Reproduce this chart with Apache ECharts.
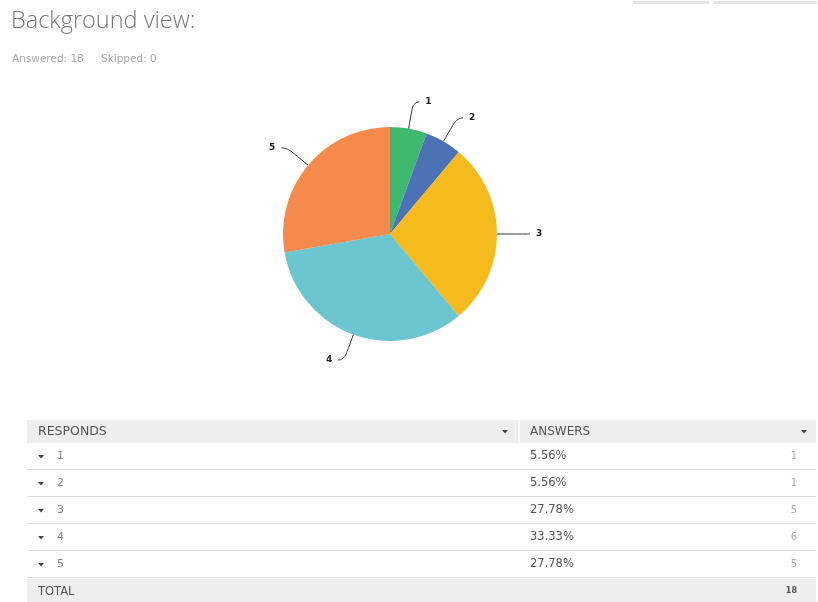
<!DOCTYPE html>
<html>
<head>
<meta charset="utf-8">
<script src="https://cdn.jsdelivr.net/npm/echarts@6/dist/echarts.min.js"></script>
<style>
html,body{margin:0;padding:0;background:#fff;}
#chart{width:818px;height:602px;}
</style>
</head>
<body>
<div id="chart"></div>
<script>
var titleText = 'Background view:';
var subtitleAnswered = 'Answered: 18';
var subtitleSkipped = 'Skipped: 0';
var categories = ['1', '2', '3', '4', '5'];
var answerCounts = [1, 1, 5, 6, 5];
var answerPercents = ['5.56%', '5.56%', '27.78%', '33.33%', '27.78%'];
var totalCount = 18;
var colHeaders = ['RESPONDS', 'ANSWERS'];
var totalLabel = 'TOTAL';
var sliceColors = ['#3fb870', '#4b72b4', '#f5bb1c', '#6cc6cf', '#f58a4c'];

var chart = echarts.init(document.getElementById('chart'), null, {renderer: 'canvas'});

var fontFam = '"DejaVu Sans", sans-serif';
var g = [];
// top-right button outlines
g.push({type: 'rect', shape: {x: 633, y: 1, width: 76, height: 3}, style: {fill: '#e4e4e4'}});
g.push({type: 'rect', shape: {x: 714, y: 1, width: 103, height: 3}, style: {fill: '#e4e4e4'}});
// title
g.push({type: 'text', left: 11, top: 9, style: {text: titleText, fill: '#777777', font: '300 23.5px "Open Sans", sans-serif'}});
g.push({type: 'text', x: 12, y: 59, style: {text: subtitleAnswered, fill: '#a8a8a8', font: '10.5px ' + fontFam, verticalAlign: 'middle'}});
g.push({type: 'text', x: 101, y: 59, style: {text: subtitleSkipped, fill: '#a8a8a8', font: '10.5px ' + fontFam, verticalAlign: 'middle'}});

// table
var tx0 = 27, tx1 = 816, tcol = 520, headY = 420, headH = 23, rowH = 27;
g.push({type: 'rect', shape: {x: tx0, y: headY, width: tx1 - tx0, height: headH}, style: {fill: '#eeeeee'}});
g.push({type: 'rect', shape: {x: tcol - 2, y: headY, width: 2, height: headH}, style: {fill: '#ffffff'}});
g.push({type: 'text', x: 38, y: headY + headH / 2, style: {text: colHeaders[0], fill: '#555', font: '12.5px ' + fontFam, verticalAlign: 'middle'}});
g.push({type: 'text', x: 530, y: headY + headH / 2, style: {text: colHeaders[1], fill: '#555', font: '12px ' + fontFam, verticalAlign: 'middle'}});
function tri(cx, cy, c) {
  return {type: 'polygon', shape: {points: [[cx - 3, cy - 1.5], [cx + 3, cy - 1.5], [cx, cy + 2]]}, style: {fill: c || '#444'}};
}
g.push(tri(505, headY + headH / 2));
g.push(tri(804, headY + headH / 2));
var y = headY + headH;
for (var i = 0; i < categories.length; i++) {
  var cy = y + rowH / 2;
  g.push(tri(41, cy));
  g.push({type: 'text', x: 57, y: cy, style: {text: categories[i], fill: '#888', font: '11px ' + fontFam, verticalAlign: 'middle'}});
  g.push({type: 'text', x: 530, y: cy, style: {text: answerPercents[i], fill: '#555', font: '11.5px ' + fontFam, verticalAlign: 'middle'}});
  g.push({type: 'text', x: 797, y: cy, style: {text: String(answerCounts[i]), fill: '#aaa', font: '10px ' + fontFam, verticalAlign: 'middle', align: 'right'}});
  y += rowH;
  g.push({type: 'rect', shape: {x: tx0, y: y - 1, width: tx1 - tx0, height: 1}, style: {fill: '#dddddd'}});
}
g.push({type: 'rect', shape: {x: tx0, y: y + 1, width: tx1 - tx0, height: 602 - y - 1}, style: {fill: '#eeeeee'}});
g.push({type: 'text', x: 38, y: y + 14, style: {text: totalLabel, fill: '#555', font: '11.5px ' + fontFam, verticalAlign: 'middle'}});
g.push({type: 'text', x: 797, y: y + 13, style: {text: String(totalCount), fill: '#555', font: 'bold 8px ' + fontFam, verticalAlign: 'middle', align: 'right'}});

chart.setOption({
  animation: false,
  backgroundColor: '#ffffff',
  graphic: g,
  series: [{
    type: 'pie',
    center: [390, 234],
    radius: 107,
    startAngle: 90,
    clockwise: true,
    color: sliceColors,
    data: categories.map(function (c, i) { return {name: c, value: answerCounts[i]}; }),
    itemStyle: {borderWidth: 0},
    label: {show: true, color: '#222', fontWeight: 'bold', fontSize: 9, fontFamily: fontFam, formatter: '{b}', distanceToLabelLine: 6},
    labelLine: {show: true, length: 27, length2: 6, smooth: 0.6, lineStyle: {color: '#333', width: 1}}
  }]
});
</script>
</body>
</html>
